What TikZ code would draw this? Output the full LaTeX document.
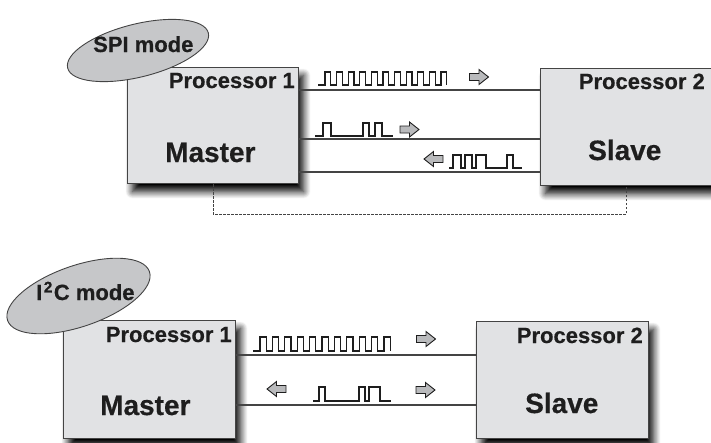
\documentclass[tikz,border=0pt]{standalone}
\usepackage{fontspec}
\setmainfont{Liberation Sans}[BoldFeatures={FakeBold=0.5}]
\usetikzlibrary{shapes.geometric,shadows.blur,calc}
\definecolor{boxfill}{HTML}{E1E2E4}
\definecolor{ellfill}{HTML}{C6C7C9}
\definecolor{ink}{HTML}{1E1E1E}
\definecolor{edge}{HTML}{444444}
\definecolor{arrfill}{HTML}{B9BABC}
\tikzset{
  procbox/.style={draw=edge, line width=1pt, fill=boxfill, anchor=north west, inner sep=0pt,
    blur shadow={shadow xshift=5pt, shadow yshift=-8pt, shadow blur radius=7pt, shadow blur steps=12, shadow opacity=100}},
  modeell/.style={ellipse, draw=edge, line width=0.9pt, fill=ellfill, inner sep=0pt},
  lblsmall/.style={inner sep=0pt, text=ink, font=\fontsize{22}{22}\selectfont\bfseries},
  lblbig/.style={inner sep=0pt, text=ink, font=\fontsize{28}{28}\selectfont\bfseries},
  conn/.style={draw=edge, line width=1.3pt},
  dashline/.style={draw=edge, line width=1pt, dash pattern=on 2.5pt off 1.5pt},
  wave/.style={draw=ink, line width=1.1pt},
  arrstyle/.style={draw=ink, line width=0.9pt, fill=arrfill, line join=miter},
  rarr/.pic={\path[arrstyle] (-9.5,-3.5) -- (0,-3.5) -- (0,-7.5) -- (9.5,0) -- (0,7.5) -- (0,3.5) -- (-9.5,3.5) -- cycle;},
  larr/.pic={\path[arrstyle] (9.5,-3.5) -- (0,-3.5) -- (0,-7.5) -- (-9.5,0) -- (0,7.5) -- (0,3.5) -- (9.5,3.5) -- cycle;}
}
\begin{document}
\begin{tikzpicture}[x=1pt,y=-1pt]
\useasboundingbox (0,0) rectangle (711,442);
% ---------- SPI mode ----------
\node[procbox, minimum width=171pt, minimum height=116pt] (M1) at (127,67) {};
\node[procbox, minimum width=173pt, minimum height=117pt] (S1) at (540,68) {};
\node[modeell, minimum width=145pt, minimum height=53pt, rotate=14] (E1) at (138,50.5) {};
\node[lblsmall, anchor=base west] (T1) at (93,52) {SPI mode};
\node[lblsmall, anchor=base east] (P1) at (295,88) {Processor 1};
\node[lblbig, anchor=base west] (MA1) at (165,162) {Master};
\node[lblsmall, anchor=base east] (P2) at (705,89) {Processor 2};
\node[lblbig, anchor=base west] (SL1) at (588,160) {Slave};
\draw[conn] ($(M1.north east)+(0,23)$) -- ($(S1.north west)+(0,22)$);
\draw[conn] ($(M1.north east)+(0,72)$) -- ($(S1.north west)+(0,71)$);
\draw[conn] ($(M1.north east)+(0,105)$) -- ($(S1.north west)+(0,104)$);
\coordinate (d1) at ($(M1.south west)+(86,0)$);
\coordinate (d2) at ($(S1.south west)+(86,0)$);
\draw[dashline] (d1) -- ++(0,30) -| (d2);
% signals
\draw[wave] (318,85) -- (325,85) \foreach \i in {1,...,10} { -- ++(0,-13) -- ++(5.8,0) -- ++(0,13) -- ++(5.8,0) } -- ++(0,-13) -- ++(5.8,0) -- ++(0,13);
\pic at (479,77) {rarr};
\draw[wave] (315,136) -- (323,136) -- (323,123) -- (331,123) -- (331,136) -- (363,136) -- (363,123) -- (369,123) -- (369,136) -- (375,136) -- (375,123) -- (382,123) -- (382,136) -- (393,136);
\pic at (409.5,129.5) {rarr};
\pic at (433.5,159) {larr};
\draw[wave] (449,168) -- (453,168) -- (453,155) -- (461,155) -- (461,168) -- (465,168) -- (465,155) -- (472,155) -- (472,168) -- (476,168) -- (476,155) -- (486,155) -- (486,168) -- (507,168) -- (507,155) -- (513,155) -- (513,168) -- (522,168);
% ---------- I2C mode ----------
\node[procbox, minimum width=172pt, minimum height=118pt] (M2) at (63,320) {};
\node[procbox, minimum width=172pt, minimum height=117pt] (S2) at (476,321) {};
\node[modeell, minimum width=150pt, minimum height=61pt, rotate=19] (E2) at (78.5,296) {};
\node[lblsmall, anchor=base west] (T2) at (36,300) {I\kern1.5pt\textsuperscript{2}\kern1pt C mode};
\node[lblsmall, anchor=base east] (P3) at (232,342) {Processor 1};
\node[lblbig, anchor=base west] (MA2) at (100,415) {Master};
\node[lblsmall, anchor=base east] (P4) at (643,343) {Processor 2};
\node[lblbig, anchor=base west] (SL2) at (525,413) {Slave};
\draw[conn] ($(M2.north east)+(0,35)$) -- ($(S2.north west)+(0,34)$);
\draw[conn] ($(M2.north east)+(0,85)$) -- ($(S2.north west)+(0,84)$);
\draw[wave] (253,351) -- (260,351) \foreach \i in {1,...,10} { -- ++(0,-14) -- ++(6.2,0) -- ++(0,14) -- ++(6.2,0) } -- ++(0,-14) -- ++(6.2,0) -- ++(0,14);
\pic at (426,339) {rarr};
\pic at (276.5,389) {larr};
\draw[wave] (313,401) -- (319,401) -- (319,387) -- (325,387) -- (325,401) -- (359,401) -- (359,387) -- (365,387) -- (365,401) -- (369,401) -- (369,387) -- (380,387) -- (380,401) -- (391,401);
\pic at (425.5,390) {rarr};
\end{tikzpicture}
\end{document}
